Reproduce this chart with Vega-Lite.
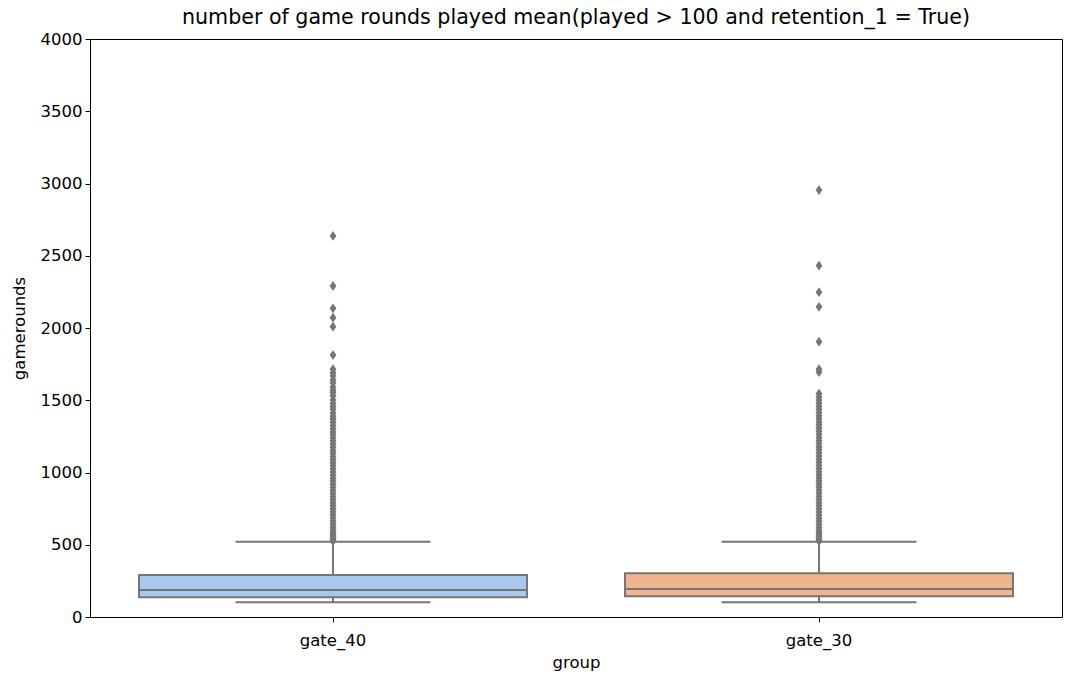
{
  "$schema": "https://vega.github.io/schema/vega-lite/v6.json",
  "autosize": "none",
  "width": 972,
  "height": 578,
  "padding": {"left": 90, "top": 39, "right": 10, "bottom": 65},
  "background": "white",
  "config": {
    "font": "DejaVu Sans",
    "view": {"stroke": "black", "strokeWidth": 1},
    "axis": {"labelFont": "DejaVu Sans", "titleFont": "DejaVu Sans", "labelFontSize": 16.5, "titleFontSize": 16.5, "labelColor": "black", "titleColor": "black", "titleFontWeight": "normal", "domainColor": "black", "tickColor": "black", "grid": false, "tickSize": 5}
  },
  "title": {"text": "number of game rounds played mean(played > 100 and retention_1 = True)", "fontSize": 20.6, "font": "DejaVu Sans", "fontWeight": "normal", "color": "black", "offset": 2},
  "datasets": {
    "summary": [
      {"group": "gate_40", "lower": 102, "q1": 136, "median": 187, "q3": 290, "upper": 521},
      {"group": "gate_30", "lower": 102, "q1": 143, "median": 194, "q3": 302, "upper": 521}
    ],
    "outliers": [
      {"group": "gate_40", "value": 2637}, {"group": "gate_40", "value": 2291}, {"group": "gate_40", "value": 2136},
      {"group": "gate_40", "value": 2071}, {"group": "gate_40", "value": 2009}, {"group": "gate_40", "value": 1813},
      {"group": "gate_40", "value": 1715}, {"group": "gate_40", "value": 1690}, {"group": "gate_40", "value": 1668},
      {"group": "gate_40", "value": 1641}, {"group": "gate_40", "value": 1620}, {"group": "gate_40", "value": 1592},
      {"group": "gate_40", "value": 1570}, {"group": "gate_40", "value": 1553}, {"group": "gate_40", "value": 1531},
      {"group": "gate_40", "value": 1502}, {"group": "gate_40", "value": 1478}, {"group": "gate_40", "value": 1455},
      {"group": "gate_40", "value": 1437}, {"group": "gate_40", "value": 1412}, {"group": "gate_40", "value": 1390},
      {"group": "gate_40", "value": 1371}, {"group": "gate_40", "value": 1348}, {"group": "gate_40", "value": 1326},
      {"group": "gate_40", "value": 1303}, {"group": "gate_40", "value": 1281}, {"group": "gate_40", "value": 1262},
      {"group": "gate_40", "value": 1240}, {"group": "gate_40", "value": 1218}, {"group": "gate_40", "value": 1197},
      {"group": "gate_40", "value": 1175}, {"group": "gate_40", "value": 1152}, {"group": "gate_40", "value": 1133},
      {"group": "gate_40", "value": 1110}, {"group": "gate_40", "value": 1089}, {"group": "gate_40", "value": 1068},
      {"group": "gate_40", "value": 1046}, {"group": "gate_40", "value": 1025}, {"group": "gate_40", "value": 1003},
      {"group": "gate_40", "value": 982}, {"group": "gate_40", "value": 961}, {"group": "gate_40", "value": 940},
      {"group": "gate_40", "value": 918}, {"group": "gate_40", "value": 897}, {"group": "gate_40", "value": 876},
      {"group": "gate_40", "value": 855}, {"group": "gate_40", "value": 833}, {"group": "gate_40", "value": 812},
      {"group": "gate_40", "value": 791}, {"group": "gate_40", "value": 770}, {"group": "gate_40", "value": 749},
      {"group": "gate_40", "value": 728}, {"group": "gate_40", "value": 707}, {"group": "gate_40", "value": 686},
      {"group": "gate_40", "value": 665}, {"group": "gate_40", "value": 644}, {"group": "gate_40", "value": 623},
      {"group": "gate_40", "value": 604}, {"group": "gate_40", "value": 588}, {"group": "gate_40", "value": 572},
      {"group": "gate_40", "value": 558}, {"group": "gate_40", "value": 545}, {"group": "gate_40", "value": 533},
      {"group": "gate_40", "value": 525},
      {"group": "gate_30", "value": 2955}, {"group": "gate_30", "value": 2431}, {"group": "gate_30", "value": 2248},
      {"group": "gate_30", "value": 2147}, {"group": "gate_30", "value": 1905}, {"group": "gate_30", "value": 1715},
      {"group": "gate_30", "value": 1695}, {"group": "gate_30", "value": 1545}, {"group": "gate_30", "value": 1523},
      {"group": "gate_30", "value": 1501}, {"group": "gate_30", "value": 1480}, {"group": "gate_30", "value": 1458},
      {"group": "gate_30", "value": 1437}, {"group": "gate_30", "value": 1415}, {"group": "gate_30", "value": 1393},
      {"group": "gate_30", "value": 1372}, {"group": "gate_30", "value": 1350}, {"group": "gate_30", "value": 1329},
      {"group": "gate_30", "value": 1307}, {"group": "gate_30", "value": 1286}, {"group": "gate_30", "value": 1264},
      {"group": "gate_30", "value": 1243}, {"group": "gate_30", "value": 1221}, {"group": "gate_30", "value": 1200},
      {"group": "gate_30", "value": 1178}, {"group": "gate_30", "value": 1157}, {"group": "gate_30", "value": 1135},
      {"group": "gate_30", "value": 1114}, {"group": "gate_30", "value": 1092}, {"group": "gate_30", "value": 1071},
      {"group": "gate_30", "value": 1049}, {"group": "gate_30", "value": 1028}, {"group": "gate_30", "value": 1006},
      {"group": "gate_30", "value": 985}, {"group": "gate_30", "value": 963}, {"group": "gate_30", "value": 942},
      {"group": "gate_30", "value": 920}, {"group": "gate_30", "value": 899}, {"group": "gate_30", "value": 877},
      {"group": "gate_30", "value": 856}, {"group": "gate_30", "value": 834}, {"group": "gate_30", "value": 813},
      {"group": "gate_30", "value": 791}, {"group": "gate_30", "value": 770}, {"group": "gate_30", "value": 748},
      {"group": "gate_30", "value": 727}, {"group": "gate_30", "value": 705}, {"group": "gate_30", "value": 684},
      {"group": "gate_30", "value": 662}, {"group": "gate_30", "value": 641}, {"group": "gate_30", "value": 620},
      {"group": "gate_30", "value": 601}, {"group": "gate_30", "value": 585}, {"group": "gate_30", "value": 570},
      {"group": "gate_30", "value": 556}, {"group": "gate_30", "value": 543}, {"group": "gate_30", "value": 532},
      {"group": "gate_30", "value": 525}
    ]
  },
  "encoding": {
    "x": {"field": "group", "type": "nominal", "sort": ["gate_40", "gate_30"],
      "scale": {"paddingInner": 0, "paddingOuter": 0},
      "axis": {"title": "group", "labelAngle": 0, "labelPadding": 10, "titlePadding": 6, "domain": false}},
    "y": {"type": "quantitative", "scale": {"domain": [0, 4000], "nice": false, "zero": true},
      "axis": {"title": "gamerounds", "format": "d", "values": [0, 500, 1000, 1500, 2000, 2500, 3000, 3500, 4000], "labelPadding": 3, "titlePadding": 13, "domain": false}}
  },
  "layer": [
    {
      "data": {"name": "summary"},
      "mark": {"type": "rule", "color": "#767676", "strokeWidth": 2},
      "encoding": {"y": {"field": "q3", "type": "quantitative"}, "y2": {"field": "upper"}}
    },
    {
      "data": {"name": "summary"},
      "mark": {"type": "rule", "color": "#767676", "strokeWidth": 2},
      "encoding": {"y": {"field": "lower", "type": "quantitative"}, "y2": {"field": "q1"}}
    },
    {
      "data": {"name": "summary"},
      "mark": {"type": "tick", "color": "#767676", "thickness": 2, "size": 195, "opacity": 1},
      "encoding": {"y": {"field": "upper", "type": "quantitative"}}
    },
    {
      "data": {"name": "summary"},
      "mark": {"type": "tick", "color": "#767676", "thickness": 2, "size": 195, "opacity": 1},
      "encoding": {"y": {"field": "lower", "type": "quantitative"}}
    },
    {
      "data": {"name": "outliers"},
      "mark": {"type": "point", "shape": "M0,-1L0.7,0L0,1L-0.7,0Z", "filled": true, "color": "#767676", "size": 95, "opacity": 1},
      "encoding": {"y": {"field": "value", "type": "quantitative"}}
    },
    {
      "data": {"name": "summary"},
      "mark": {"type": "bar", "size": 388, "stroke": "#767676", "strokeWidth": 2},
      "encoding": {
        "y": {"field": "q1", "type": "quantitative"}, "y2": {"field": "q3"},
        "color": {"field": "group", "type": "nominal", "scale": {"domain": ["gate_40", "gate_30"], "range": ["#a9c8ed", "#f0b48e"]}, "legend": null}
      }
    },
    {
      "data": {"name": "summary"},
      "mark": {"type": "tick", "color": "#767676", "thickness": 2, "size": 388, "opacity": 1},
      "encoding": {"y": {"field": "median", "type": "quantitative"}}
    }
  ]
}
